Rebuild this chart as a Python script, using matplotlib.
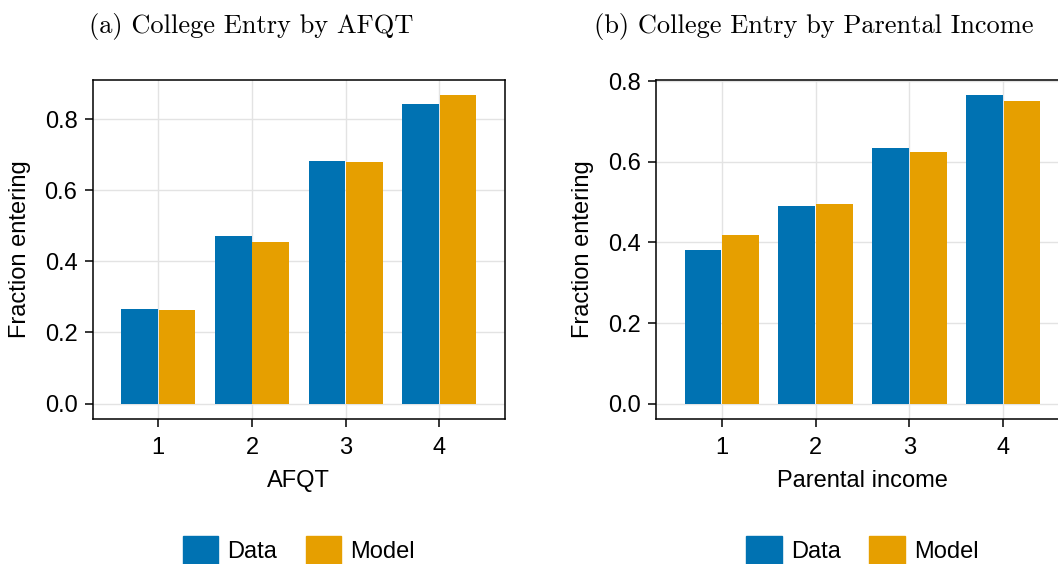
import matplotlib
matplotlib.use("Agg")
import matplotlib.pyplot as plt
import numpy as np
from matplotlib.patches import Patch
from matplotlib.ticker import FormatStrFormatter

plt.rcParams["font.family"] = ["Liberation Sans", "DejaVu Sans"]
plt.rcParams["font.size"] = 17

# quartile groups
groups = [1, 2, 3, 4]

# college entry rates by AFQT quartile
afqt_data = [0.266, 0.471, 0.682, 0.844]
afqt_model = [0.263, 0.454, 0.679, 0.867]

# college entry rates by parental income quartile
inc_data = [0.381, 0.490, 0.634, 0.765]
inc_model = [0.418, 0.495, 0.624, 0.750]

blue = "#0072B2"
orange = "#E69F00"

fig = plt.figure(figsize=(10.58, 5.64), dpi=100)

W, H = 1058, 564
ax_l = fig.add_axes([92.7 / W, 1 - 419 / H, (505 - 92.7) / W, (419 - 80) / H])
ax_r = fig.add_axes([656 / W, 1 - 419 / H, (1069 - 656) / W, (419 - 80) / H])


def bar_panel(ax, data, model, xlabel):
    x = np.array(groups, dtype=float)
    ax.bar(x - 0.2, data, width=0.39, color=blue, zorder=2)
    ax.bar(x + 0.2, model, width=0.39, color=orange, zorder=2)

    top = max(max(data), max(model))
    ax.set_ylim(-0.05 * top, 1.05 * top)
    ax.set_xlim(0.3, 4.7)
    ax.set_xticks(groups)
    ax.set_yticks([0.0, 0.2, 0.4, 0.6, 0.8])
    ax.yaxis.set_major_formatter(FormatStrFormatter("%.1f"))

    ax.grid(True, color="#e3e3e3", linewidth=1.0, zorder=0)
    ax.set_axisbelow(True)
    for s in ax.spines.values():
        s.set_linewidth(1.1)
        s.set_color("black")
    ax.tick_params(direction="out", length=6, width=1.1)
    ax.tick_params(axis="x", pad=7)
    ax.tick_params(axis="y", pad=5)

    ax.set_xlabel(xlabel)
    ax.set_ylabel("Fraction entering")
    ax.xaxis.set_label_coords(0.5, -0.15)
    ax.yaxis.set_label_coords(-0.15, 0.5)

    handles = [Patch(color=blue, label="Data"), Patch(color=orange, label="Model")]
    ax.legend(handles=handles, loc="center", bbox_to_anchor=(0.5, -0.388),
              ncol=2, frameon=False, handlelength=1.5, handleheight=1.5,
              handletextpad=0.4, columnspacing=1.2, borderpad=0)


bar_panel(ax_l, afqt_data, afqt_model, "AFQT")
bar_panel(ax_r, inc_data, inc_model, "Parental income")

fig.text(251 / W, 1 - 33 / H, "(a) College Entry by AFQT", family="cmr10",
         fontsize=19, ha="center", va="baseline")
fig.text(814 / W, 1 - 33 / H, "(b) College Entry by Parental Income", family="cmr10",
         fontsize=19, ha="center", va="baseline")

fig.savefig("out.png", dpi=100)
